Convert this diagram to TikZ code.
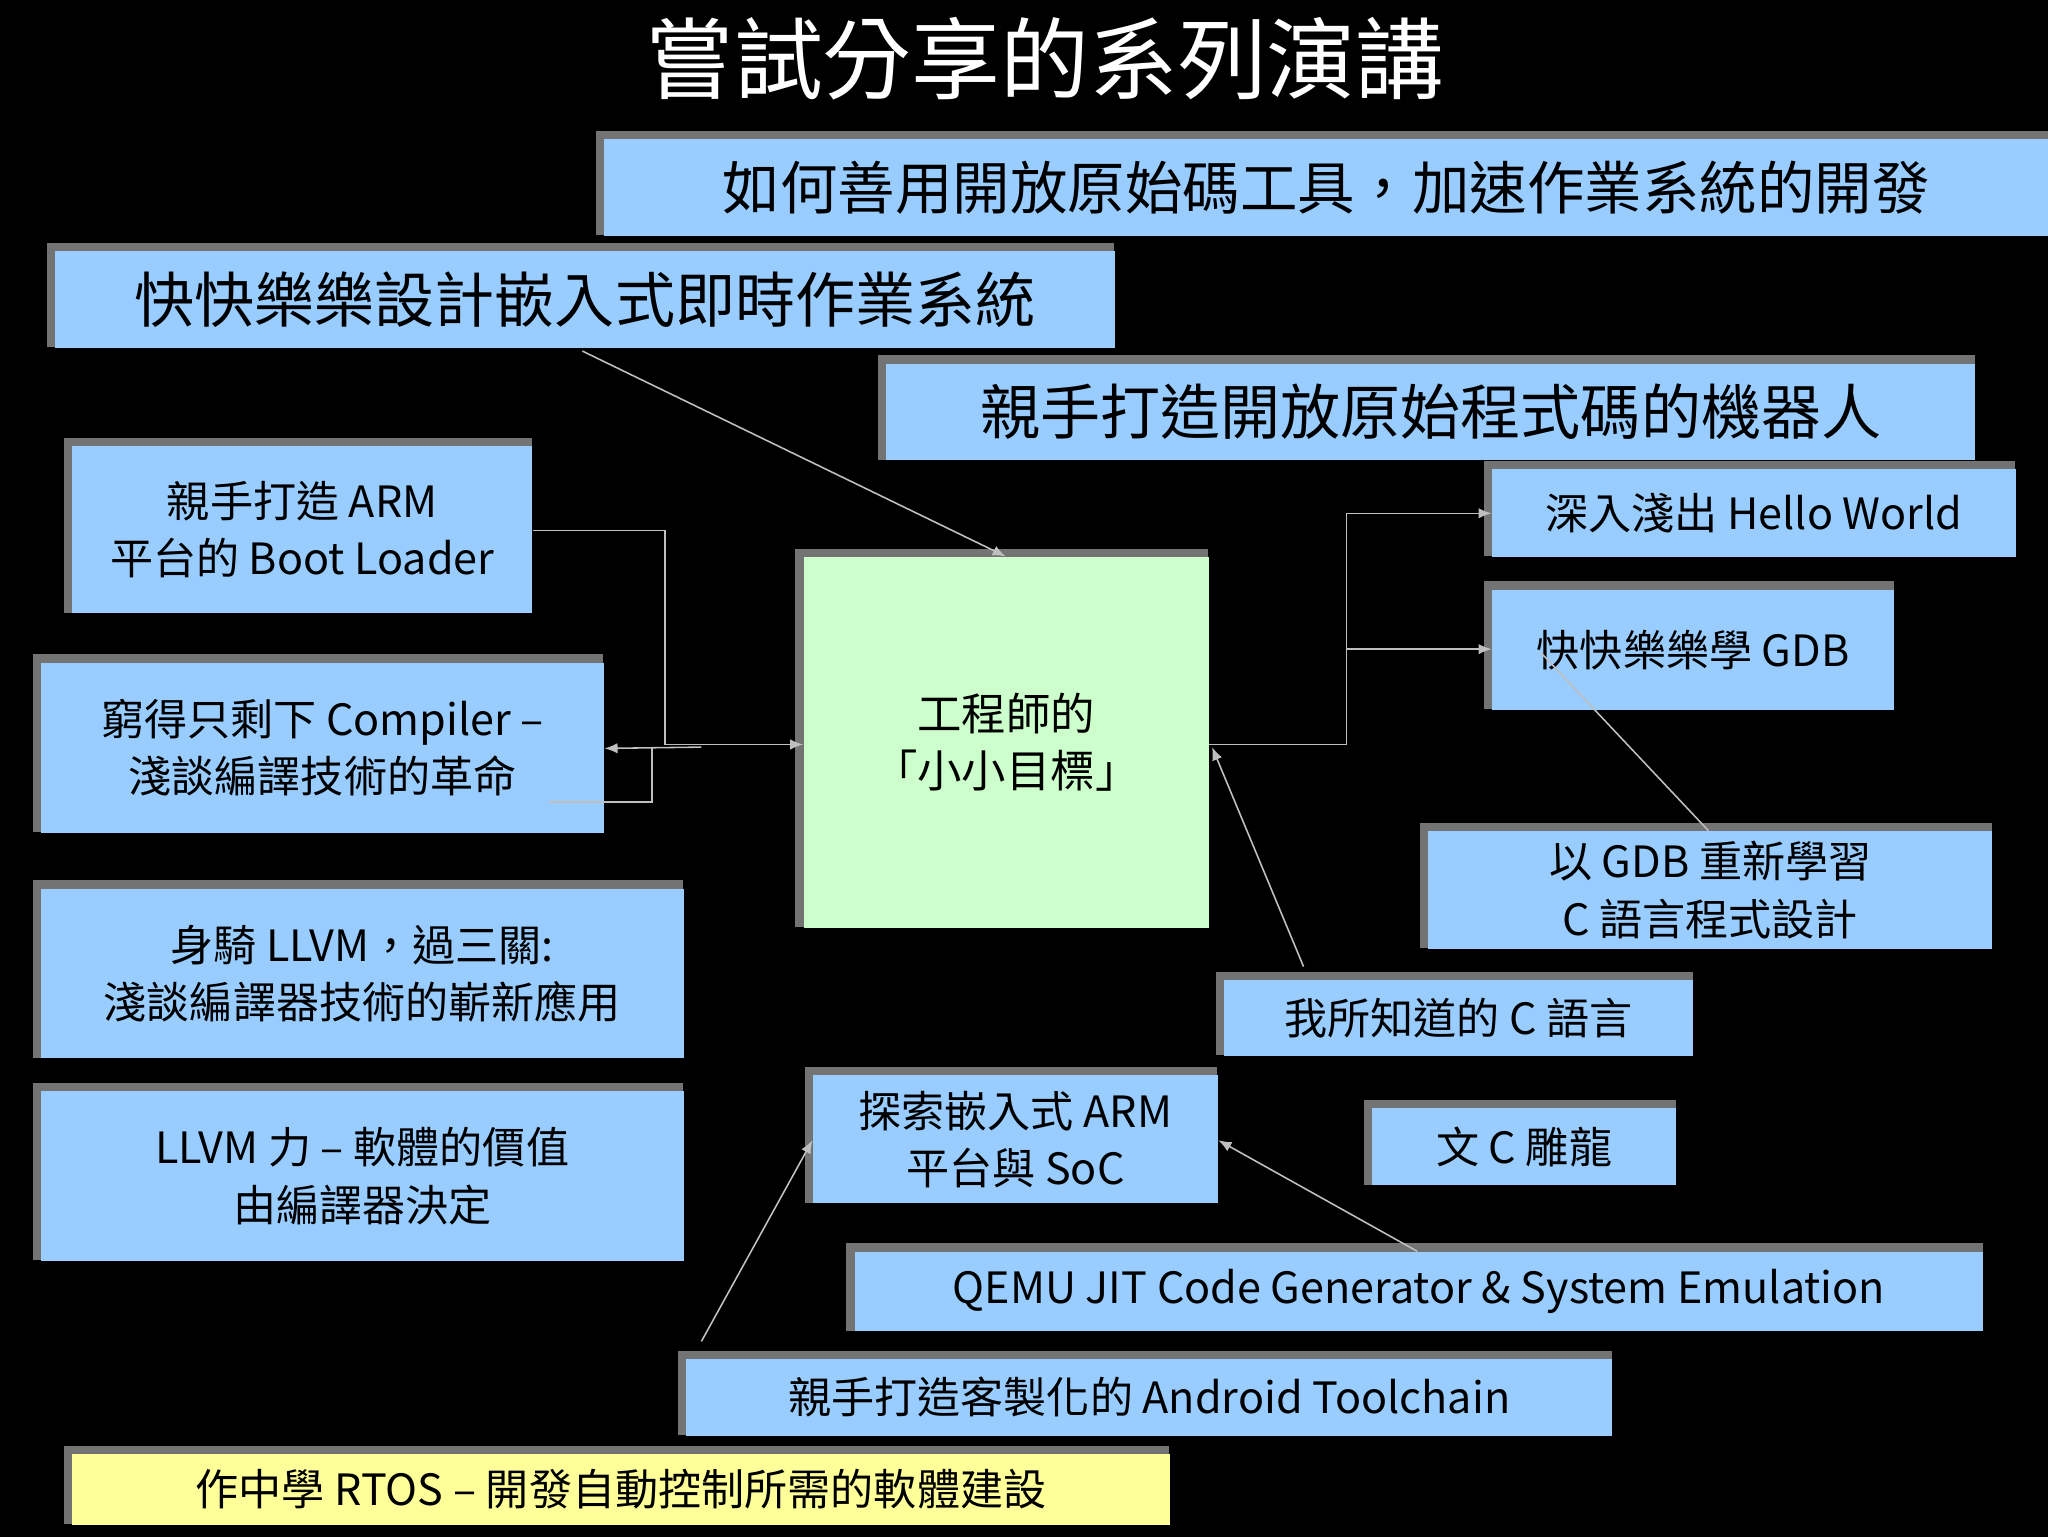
\documentclass[tikz,border=0pt]{standalone}
\usepackage{fontspec}
\setmainfont{Noto Sans CJK TC}
\begin{document}
\begin{tikzpicture}[x=0.5pt,y=-0.5pt,
  box/.style={draw=none,anchor=north west,inner sep=0pt,align=center,text=black},
  shad/.style={fill=black!55},
  conn/.style={draw=black!25,line width=0.6pt},
  arr/.style={conn,-{Latex[length=5pt,width=4pt]}}]
\usetikzlibrary{arrows.meta}
\fill[black] (0,0) rectangle (1568,1177);
\useasboundingbox (0,0) rectangle (1568,1177);
\newcommand\bx[8]{%
  \fill[shad] (#2-6,#3-6) rectangle (#4,#5);
  \node[box,fill=#6,minimum width={#4*0.5pt-#2*0.5pt},minimum height={#5*0.5pt-#3*0.5pt},font=#7] (#1) at (#2,#3) {#8};}
\definecolor{lb}{HTML}{99CCFF}
\definecolor{lg}{HTML}{CCFFCC}
\definecolor{ly}{HTML}{FFFF99}
\node[text=white,font=\fontsize{34}{40}\selectfont] (title) at (800,45) {嘗試分享的系列演講};
\bx{A}{462}{106}{1568}{180}{lb}{\fontsize{22}{26}\selectfont}{如何善用開放原始碼工具，加速作業系統的開發}
\bx{B}{42}{192}{853}{266}{lb}{\fontsize{23}{26}\selectfont}{快快樂樂設計嵌入式即時作業系統}
\bx{C}{678}{278}{1512}{352}{lb}{\fontsize{23}{26}\selectfont}{親手打造開放原始程式碼的機器人}
\bx{D}{55}{341}{407}{469}{lb}{\fontsize{16.5}{22}\selectfont}{親手打造 ARM\\平台的 Boot Loader}
\bx{E}{31}{507}{462}{637}{lb}{\fontsize{16.5}{22}\selectfont}{窮得只剩下 Compiler –\\淺談編譯技術的革命}
\bx{F}{31}{680}{523}{810}{lb}{\fontsize{16.5}{22}\selectfont}{身騎 LLVM，過三關:\\淺談編譯器技術的嶄新應用}
\bx{G}{31}{835}{523}{965}{lb}{\fontsize{16.5}{22}\selectfont}{LLVM 力 – 軟體的價值\\由編譯器決定}
\bx{Z}{615}{426}{925}{710}{lg}{\fontsize{17}{22}\selectfont}{工程師的\\「小小目標」}
\bx{H}{1142}{359}{1543}{426}{lb}{\fontsize{16.5}{22}\selectfont}{深入淺出 Hello World}
\bx{I}{1142}{451}{1450}{543}{lb}{\fontsize{16.5}{22}\selectfont}{快快樂樂學 GDB}
\bx{J}{1093}{636}{1525}{726}{lb}{\fontsize{16.5}{22}\selectfont}{以 GDB 重新學習\\C 語言程式設計}
\bx{K}{937}{750}{1296}{808}{lb}{\fontsize{16.5}{22}\selectfont}{我所知道的 C 語言}
\bx{L}{1050}{848}{1283}{907}{lb}{\fontsize{16.5}{22}\selectfont}{文 C 雕龍}
\bx{M}{622}{823}{932}{921}{lb}{\fontsize{16.5}{22}\selectfont}{探索嵌入式 ARM\\平台與 SoC}
\bx{N}{654}{958}{1518}{1019}{lb}{\fontsize{16.5}{22}\selectfont}{QEMU JIT Code Generator \& System Emulation}
\bx{O}{525}{1040}{1234}{1099}{lb}{\fontsize{16.5}{22}\selectfont}{親手打造客製化的 Android Toolchain}
\bx{P}{55}{1113}{895}{1167}{ly}{\fontsize{16.5}{22}\selectfont}{作中學 RTOS –  開發自動控制所需的軟體建設}
% connectors
\draw[arr] (B.south) ++(-2,2) coordinate (b1) -- (770,426);
\draw[arr] (D.east |- 0,406) -- (509,406) -- (509,570) -- (Z.west |- 0,570);
\draw[arr] (537,572) -- (E.east |- 0,573);
\draw[conn] (420,614) -- (499,614) -- (499,573);
\draw[arr] (Z.east |- 0,570) -- (1031,570) -- (1031,393) -- (H.west |- 0,393);
\draw[arr] (1031,497) -- (I.west |- 0,497);
\draw[conn] (1180,500) -- (J.north -| 1308,0);
\draw[arr] (K.north -| 998,0) ++(0,-10) -- (928,572);
\draw[arr] (N.north -| 1085,0) -- (M.east |- 0,873);
\draw[arr] (537,1027) -- (M.west |- 0,873);
\end{tikzpicture}
\end{document}
